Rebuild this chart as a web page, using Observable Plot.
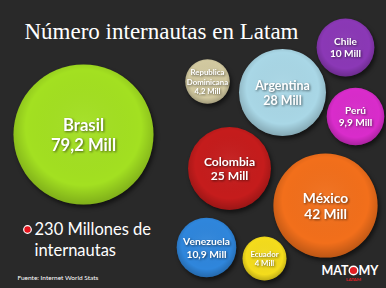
<!DOCTYPE html>
<html>
<head>
<meta charset="utf-8">
<script src="https://cdn.jsdelivr.net/npm/d3@7"></script>
<script src="https://cdn.jsdelivr.net/npm/@observablehq/plot@0.6"></script>
<style>
  html, body { margin: 0; padding: 0; background: #292929; }
  #chart svg { display: block; }
  .bub-label text { filter: drop-shadow(1px 1px 1px rgba(0,0,0,0.55)); }
  .bub-shadow { filter: blur(2px); }
</style>
</head>
<body>
<div id="chart"></div>
<script>
// ---- data ----
const countries = ["Brasil", "México", "Argentina", "Colombia", "Venezuela", "Chile", "Perú", "Republica\nDominicana", "Ecuador"];
const values = [79.2, 42, 28, 25, 10.9, 10, 9.9, 4.2, 4];
const valueLabels = ["79,2 Mill", "42 Mill", "28 Mill", "25 Mill", "10,9 Mill", "10 Mill", "9,9 Mill", "4,2 Mill", "4 Mill"];
const totalLabel = "230 Millones de\ninternautas";
const title = "Número internautas en Latam";
const source = "Fuente: Internet World Stats";

// ---- layout (slide coordinates) & styles ----
const layoutX = [83, 325, 282, 229, 206, 345, 355, 207, 264];
const layoutY = [134, 205, 92, 168, 247, 47, 116, 81, 258];
const colors = ["#a3e021", "#f26f1b", "#a9d7e6", "#c51c1c", "#2f86dc", "#8b38b6", "#d92ccb", "#d2c9a0", "#f4dc1c"];
const sizeOffset = 4.24; // small bubbles are drawn with a floor size in the original

const data = countries.map((c, i) => ({
  country: c, value: values[i], label: `${c}\n${valueLabels[i]}`,
  x: layoutX[i], y: layoutY[i], color: colors[i]
}));

const rOf = v => 70 * Math.sqrt((v + sizeOffset) / (79.2 + sizeOffset));
const fontFor = d => d.value < 5 ? 7.8 : 5.5 + rOf(d.value) * 0.16;

const chart = Plot.plot({
  width: 386,
  height: 288,
  margin: 0,
  style: { background: "#292929", color: "white", overflow: "visible" },
  x: { domain: [0, 386], range: [0, 386], axis: null },
  y: { domain: [0, 288], range: [0, 288], axis: null },
  r: { type: "sqrt", domain: [0, 79.2 + sizeOffset], range: [0, 70] },
  marks: [
    Plot.dot(data, { x: "x", y: "y", r: d => d.value + sizeOffset, fill: "black", fillOpacity: 0.55, dx: 2, dy: 3, className: "bub-shadow" }),
    Plot.dot(data, { x: "x", y: "y", r: d => d.value + sizeOffset, fill: "color" }),
    Plot.dot(data, { x: "x", y: "y", r: d => d.value + sizeOffset, fill: "url(#shade)" }),
    Plot.text(data, {
      x: "x", y: "y", text: "label", fill: "white",
      fontSize: d => fontFor(d), fontWeight: "bold",
      fontFamily: "Lato, 'Open Sans', sans-serif", lineHeight: 1.2,
      className: "bub-label"
    }),
    // title
    Plot.text([title], { x: 24, y: 31, text: d => d, textAnchor: "start", fill: "white",
      fontSize: 23, fontFamily: "'Liberation Serif', 'DejaVu Serif', serif" }),
    // total legend
    Plot.dot([0], { x: 27, y: 229, r: 3.8, fill: "#e5141d", stroke: "white", strokeWidth: 1.2 }),
    Plot.text([totalLabel], { x: 34, y: 220, text: d => d, textAnchor: "start", lineAnchor: "top",
      fill: "white", fontSize: 16.5, lineHeight: 1.27, fontFamily: "Lato, sans-serif" }),
    // source
    Plot.text([source], { x: 17, y: 277, text: d => d, textAnchor: "start", fill: "white",
      fontSize: 6.5, fontFamily: "Lato, sans-serif" }),
    // logo
    Plot.text(["MAT"], { x: 348, y: 270, text: d => d, textAnchor: "end", fill: "white",
      fontSize: 12.5, fontWeight: "bold", fontFamily: "Lato, sans-serif" }),
    Plot.dot([0], { x: 353, y: 270, r: 4.3, fill: "#e31e24", stroke: "white", strokeWidth: 1.4 }),
    Plot.text(["MY"], { x: 358, y: 270, text: d => d, textAnchor: "start", fill: "white",
      fontSize: 12.5, fontWeight: "bold", fontFamily: "Lato, sans-serif" }),
    Plot.text(["LATAM"], { x: 353, y: 279, text: d => d, fill: "#e31e24",
      fontSize: 4.5, fontWeight: "bold", fontFamily: "Lato, sans-serif" })
  ]
});

// gradient defs for subtle 3D shading
const svg = d3.select(chart);
const defs = svg.insert("defs", ":first-child");
const g = defs.append("radialGradient").attr("id", "shade").attr("cx", "50%").attr("cy", "45%").attr("r", "55%");
g.append("stop").attr("offset", "0%").attr("stop-color", "white").attr("stop-opacity", 0.06);
g.append("stop").attr("offset", "75%").attr("stop-color", "black").attr("stop-opacity", 0);
g.append("stop").attr("offset", "100%").attr("stop-color", "black").attr("stop-opacity", 0.22);

document.getElementById("chart").appendChild(chart);
</script>
</body>
</html>
